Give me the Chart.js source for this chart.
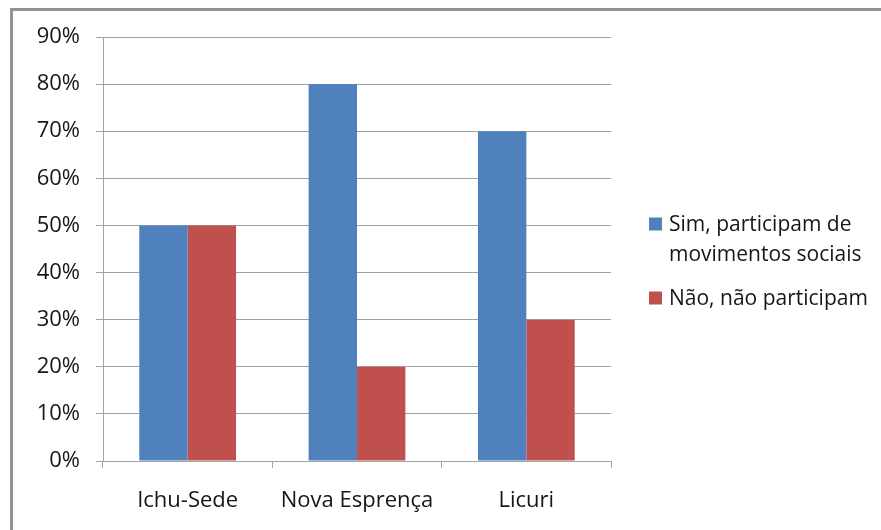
<!DOCTYPE html>
<html>
<head>
<meta charset="utf-8">
<script src="https://cdn.jsdelivr.net/npm/chart.js@4.4.1/dist/chart.umd.min.js"></script>
<style>
  html, body { margin: 0; padding: 0; background: #fff; }
  #frame {
    position: absolute; left: 10px; top: 8px; width: 1000px; height: 1000px;
    border-left: 3px solid #929292; border-top: 3px solid #929292;
    box-sizing: border-box; z-index: 0;
  }
  #wrap { position: absolute; left: 0; top: 0; width: 881px; height: 530px; z-index: 1; }
</style>
</head>
<body>
<div id="frame"></div>
<div id="wrap"><canvas id="chart" width="881" height="530"></canvas></div>
<script>
// Localidades e percentuais de participação
const categories = ['Ichu-Sede', 'Nova Esprença', 'Licuri'];
const simParticipam = [50, 80, 70];
const naoParticipam = [50, 20, 30];
const seriesLabels = ['Sim, participam de movimentos sociais', 'Não, não participam'];
const seriesColors = ['#4f81bd', '#c0504d'];
const yTicks = { min: 0, max: 90, step: 10 };

const FONT = '"Open Sans", "Noto Sans", sans-serif';
const AXIS_SIZE = 22;
const LEGEND_SIZE = 21;
const TEXT = '#161616';
const GRID = '#a3a3a3';

// Legend drawn to the right of the plot, wrapping long labels
const sideLegend = {
  id: 'sideLegend',
  afterDraw(chart) {
    const { ctx, chartArea } = chart;
    const box = 13, lineGap = 30, itemGap = 44, capH = 15, maxTextW = 215;
    const x = chartArea.right + 38;
    const tx = x + 20;
    ctx.save();
    ctx.font = LEGEND_SIZE + 'px ' + FONT;
    ctx.textBaseline = 'alphabetic';
    ctx.textAlign = 'left';
    const items = chart.data.datasets.map(ds => {
      const words = ds.label.split(' ');
      const lines = [];
      let cur = '';
      words.forEach(w => {
        const test = cur ? cur + ' ' + w : w;
        if (cur && ctx.measureText(test).width > maxTextW) { lines.push(cur); cur = w; }
        else cur = test;
      });
      if (cur) lines.push(cur);
      return { lines, color: ds.backgroundColor };
    });
    let span = 0;
    items.forEach((it, i) => { span += (it.lines.length - 1) * lineGap + (i > 0 ? itemGap : 0); });
    span += capH;
    const centerY = (chartArea.top + chartArea.bottom) / 2 + 11;
    let y = centerY - span / 2 + capH;
    items.forEach((it, i) => {
      if (i > 0) y += itemGap;
      ctx.fillStyle = it.color;
      ctx.fillRect(x, y - box, box, box);
      ctx.fillStyle = TEXT;
      it.lines.forEach((ln, j) => {
        if (j > 0) y += lineGap;
        ctx.fillText(ln, tx, y);
      });
    });
    ctx.restore();
  }
};

new Chart(document.getElementById('chart'), {
  type: 'bar',
  data: {
    labels: categories,
    datasets: [
      { label: seriesLabels[0], data: simParticipam, backgroundColor: seriesColors[0] },
      { label: seriesLabels[1], data: naoParticipam, backgroundColor: seriesColors[1] }
    ]
  },
  options: {
    responsive: false,
    animation: false,
    layout: { padding: { left: 0, top: 37, right: 270, bottom: 0 } },
    datasets: { bar: { categoryPercentage: 2 / 3.5, barPercentage: 1, borderWidth: 0 } },
    plugins: { legend: { display: false }, tooltip: { enabled: false } },
    scales: {
      x: {
        offset: true,
        grid: { offset: true, drawOnChartArea: false, drawTicks: true, tickLength: 7, color: GRID },
        border: { color: GRID, width: 1 },
        ticks: { color: TEXT, font: { family: FONT, size: AXIS_SIZE }, padding: 20, maxRotation: 0 },
        afterFit(scale) { scale.height = 69; }
      },
      y: {
        min: yTicks.min, max: yTicks.max,
        grid: { color: GRID, drawTicks: true, tickLength: 7 },
        border: { color: GRID, width: 1 },
        ticks: {
          stepSize: yTicks.step, color: TEXT, padding: 16,
          font: { family: FONT, size: AXIS_SIZE },
          callback: v => v + '%'
        },
        afterFit(scale) { scale.width = 103; }
      }
    }
  },
  plugins: [sideLegend]
});
</script>
</body>
</html>
